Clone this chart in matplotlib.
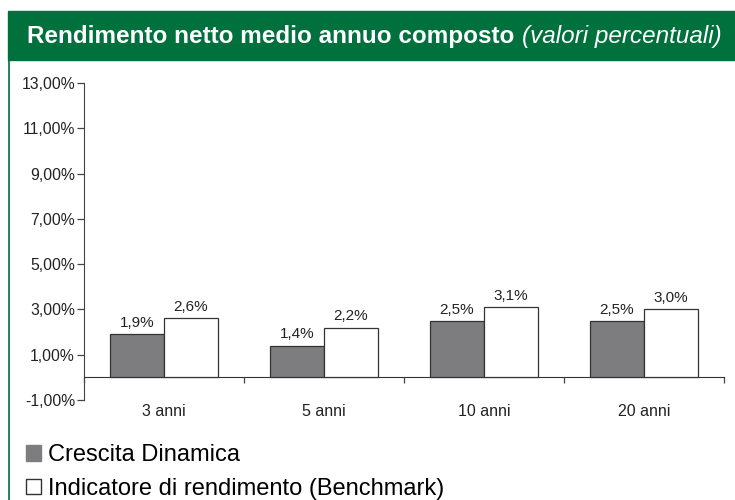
import numpy as np
import matplotlib
matplotlib.use("Agg")
import matplotlib.pyplot as plt
from matplotlib.patches import Rectangle, Patch
from matplotlib.transforms import blended_transform_factory

plt.rcParams['font.family'] = ['Liberation Sans', 'DejaVu Sans']

categories = ["3 anni", "5 anni", "10 anni", "20 anni"]
fondo = [1.9, 1.4, 2.5, 2.5]
benchmark = [2.6, 2.2, 3.1, 3.0]
series_names = ["Crescita Dinamica", "Indicatore di rendimento (Benchmark)"]
y_ticks = [-1, 1, 3, 5, 7, 9, 11, 13]

GREEN = "#00703c"
DARK = "#7d7d80"
EDGE = "#333333"
TXT = "#222222"

fig = plt.figure(figsize=(7.35, 5.0), dpi=100)

# green header band + left border
fig.patches.append(Rectangle((8 / 735, 1 - 60 / 500), 1, 49 / 500,
                             transform=fig.transFigure, color=GREEN, zorder=0))
fig.add_artist(plt.Line2D([8.5 / 735, 8.5 / 735], [0, 1 - 60 / 500],
                          transform=fig.transFigure, color=GREEN, lw=1.2))
t1 = fig.text(27 / 735, 1 - 43.5 / 500, "Rendimento netto medio annuo composto",
              color="white", fontsize=17.5, fontweight="bold", va="baseline")
fig.canvas.draw()
bb = t1.get_window_extent()
fig.text((bb.x1 + 8) / 735, 1 - 43.5 / 500, "(valori percentuali)",
         color="white", fontsize=17.5, fontstyle="italic", va="baseline")

ax = fig.add_axes([84 / 735, 1 - 400 / 500, 640 / 735, 317 / 500])
x = np.arange(len(categories))
w = 0.3375
b1 = ax.bar(x - w / 2, fondo, w, color=DARK, edgecolor=EDGE, linewidth=0.9, zorder=3)
b2 = ax.bar(x + w / 2, benchmark, w, color="white", edgecolor=EDGE, linewidth=0.9, zorder=3)
ax.bar_label(b1, labels=[f"{v:.1f}%".replace(".", ",") for v in fondo],
             padding=3, fontsize=11, color=TXT)
ax.bar_label(b2, labels=[f"{v:.1f}%".replace(".", ",") for v in benchmark],
             padding=3, fontsize=11, color=TXT)

ax.set_xlim(-0.5, len(categories) - 0.5)
ax.set_ylim(-1, 13)
ax.set_yticks(y_ticks)
ax.set_yticklabels([f"{t:.2f}%".replace(".", ",") for t in y_ticks], fontsize=11.3, color=TXT)
ax.tick_params(axis="y", length=5, width=0.9, color="#444444", pad=1.5)

ax.spines["top"].set_visible(False)
ax.spines["right"].set_visible(False)
ax.spines["left"].set_color("#444444")
ax.spines["bottom"].set_position(("data", 0))
ax.spines["bottom"].set_color("#333333")
ax.set_xticks(np.arange(len(categories) + 1) - 0.5)
ax.set_xticklabels([])
ax.tick_params(axis="x", length=4, width=0.9, color="#444444")

trans = blended_transform_factory(ax.transData, ax.transAxes)
for i, c in enumerate(categories):
    ax.text(i, -0.012, c, transform=trans, ha="center", va="top", fontsize=11.5, color=TXT)

handles = [Patch(facecolor=DARK, edgecolor=DARK), Patch(facecolor="white", edgecolor=EDGE)]
fig.legend(handles, series_names, loc="upper left", bbox_to_anchor=(26 / 735, 1 - 444 / 500),
           frameon=False, fontsize=17, handlelength=0.65, handleheight=0.65,
           handletextpad=0.28, labelspacing=0.5, borderaxespad=0, borderpad=0)

fig.savefig("out.png", dpi=100)
